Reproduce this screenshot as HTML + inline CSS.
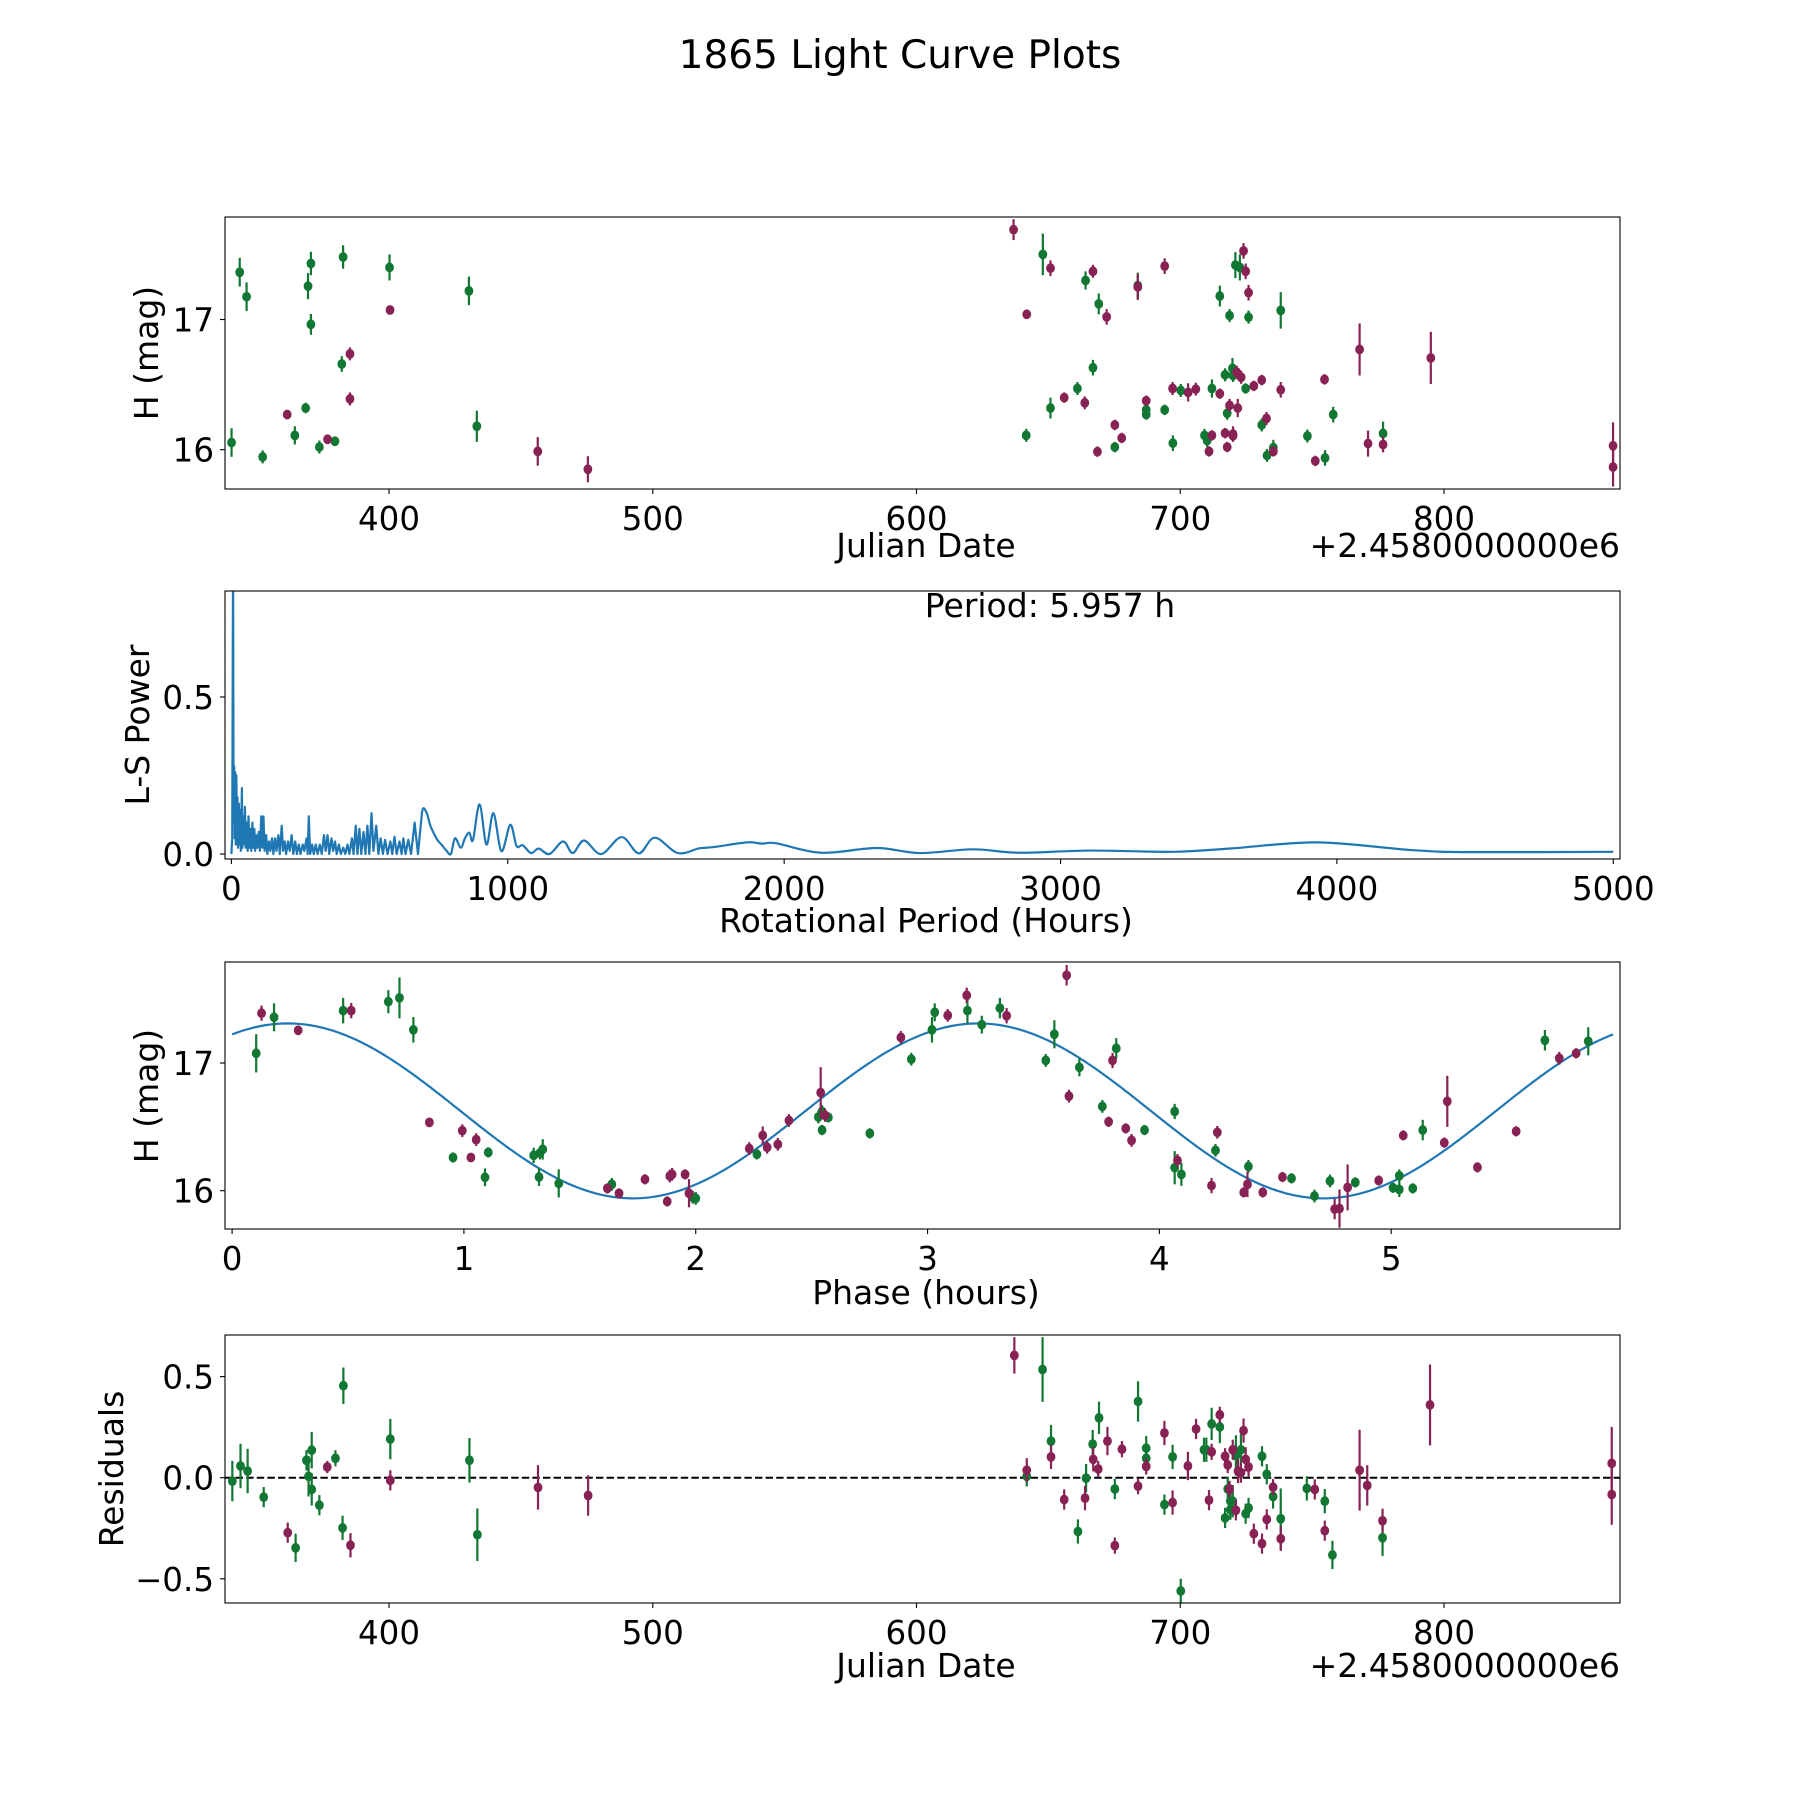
<!DOCTYPE html>
<html><head><meta charset="utf-8"><style>
html,body{margin:0;padding:0;background:#fff;}
svg text{font-family:"DejaVu Sans","Liberation Sans",sans-serif;fill:#000;}
</style></head><body>
<svg id="fig" xmlns="http://www.w3.org/2000/svg" width="1800" height="1800" viewBox="0 0 1800 1800">
<rect width="1800" height="1800" fill="#fff"/>
<text x="900" y="68" font-size="39" text-anchor="middle">1865 Light Curve Plots</text>
</svg>
<script>
// ---- Panel 1: light curve (Julian Date) ----
const lcGreenDay=[340.3,343.4,346.0,352.1,364.3,368.4,369.3,370.4,370.4,373.6,379.5,382.1,382.6,400.2,430.3,433.3,647.9,664.1,669.1,683.9,715.0,720.9,722.6,718.7,725.9,738.1,666.9,661.0,650.8,687.1,687.1,694.1,700.2,712.0,717.0,719.8,720.0,724.8,717.8,641.6,675.2,697.2,709.2,710.2,730.9,732.9,735.3,748.2,754.9,758.0,776.9];
const lcGreenMag=[16.055,17.363,17.175,15.945,16.11,16.32,17.256,17.43,16.963,16.02,16.065,16.658,17.48,17.40,17.22,16.18,17.50,17.30,17.12,17.26,17.18,17.418,17.40,17.03,17.018,17.07,16.63,16.47,16.32,16.306,16.27,16.306,16.455,16.47,16.575,16.625,16.57,16.47,16.28,16.11,16.02,16.05,16.11,16.07,16.19,15.956,16.016,16.105,15.937,16.27,16.125];
const lcGreenErr=[.11,.11,.11,.05,.07,.04,.1,.09,.08,.05,.03,.06,.09,.1,.11,.12,.16,.07,.08,.1,.08,.1,.1,.05,.05,.14,.06,.05,.08,.05,.04,.04,.05,.07,.05,.08,.05,.04,.05,.05,.04,.06,.05,.05,.05,.05,.06,.05,.06,.06,.09];
const lcRedDay=[361.4,376.7,385.2,385.2,400.4,456.4,475.4,636.8,650.8,641.8,666.9,672.1,683.9,694.1,724.0,724.8,725.9,768.0,795.0,656.0,663.8,687.1,697.1,703.0,705.9,715.0,721.4,723.1,727.9,730.9,738.1,754.7,718.7,721.8,668.6,675.2,677.8,710.9,712.0,717.0,717.8,720.0,720.0,732.7,735.3,751.2,771.2,776.9,864.1,864.1];
const lcRedMag=[16.27,16.08,16.736,16.39,17.073,15.987,15.85,17.69,17.394,17.04,17.37,17.02,17.25,17.41,17.527,17.37,17.206,16.77,16.705,16.40,16.36,16.376,16.47,16.44,16.465,16.43,16.595,16.556,16.49,16.535,16.46,16.54,16.34,16.32,15.985,16.19,16.09,15.987,16.11,16.127,16.02,16.12,16.107,16.24,15.987,15.914,16.047,16.04,16.03,15.867];
const lcRedErr=[.03,.02,.05,.05,.03,.11,.1,.08,.06,.03,.05,.06,.1,.06,.06,.06,.06,.2,.2,.04,.05,.04,.05,.07,.05,.04,.05,.05,.04,.04,.06,.04,.05,.07,.04,.04,.04,.04,.04,.04,.04,.06,.04,.05,.04,.04,.1,.06,.18,.15];
const dateTicks=[400,500,600,700,800];
const magTicks=[16,17];

// ---- Panel 2: Lomb-Scargle periodogram ----
const lsPeriod=[0,3,5.96,8,10,12,14,16,18,20,22,24,27,29,32,34,38,40,43,46,49,52,56,59,62,65,69,72,76,79,83,86,90,94,99,103,108,112,116,120,126,130,136,141,147,152,158,163,170,175,182,187,193,198,205,211,218,224,231,237,244,250,258,264,272,276,280,285,292,298,305,312,320,327,335,341,348,354,362,368,375,381,389,396,405,412,420,427,436,442,450,456,463,470,478,485,492,499,507,514,524,532,540,548,556,565,575,582,590,598,608,616,622,630,640,650,663,675,690,706,720,743,760,777,794,809,830,845,861,874,898,923,948,977,1009,1032,1054,1084,1112,1151,1200,1235,1276,1338,1412,1474,1532,1615,1693,1745,1865,1919,1972,2133,2336,2490,2683,2850,3107,3407,3621,3931,4263,4477,5000];
const lsPower=[0,0.05,0.95,0.1,0.28,0.05,0.26,0.03,0.25,0.04,0.18,0.02,0.16,0.03,0.14,0.01,0.21,0.02,0.12,0.03,0.15,0.02,0.10,0.01,0.12,0.02,0.08,0.01,0.10,0.02,0.08,0.01,0.06,0.02,0.07,0.01,0.12,0.02,0.12,0.01,0.06,0.0,0.04,0.01,0.05,0.0,0.05,0.01,0.06,0.0,0.09,0.01,0.04,0.0,0.04,0.01,0.06,0.0,0.04,0.0,0.03,0.0,0.03,0.01,0.05,0.0,0.12,0.0,0.03,0.0,0.03,0.0,0.03,0.0,0.06,0.01,0.06,0.0,0.05,0.01,0.04,0.0,0.03,0.0,0.02,0.0,0.03,0.0,0.05,0.0,0.09,0.0,0.08,0.0,0.07,0.0,0.09,0.0,0.13,0.01,0.09,0.0,0.05,0.0,0.045,0.0,0.04,0.0,0.055,0.0,0.04,0.0,0.05,0.0,0.045,0.0,0.1,0.0,0.135,0.132,0.09,0.048,0.03,0.012,0.0,0.05,0.02,0.05,0.068,0.044,0.158,0.03,0.13,0.009,0.093,0.025,0.028,0.003,0.017,0.0,0.04,0.003,0.043,0.0,0.054,0.002,0.052,0.003,0.018,0.022,0.037,0.033,0.034,0.004,0.019,0.003,0.015,0.004,0.011,0.007,0.018,0.037,0.013,0.006,0.007];
const periodTicks=[0,1000,2000,3000,4000,5000];
const powerTicks=[0,0.5];
const powerTickLabels=["0.0","0.5"];
const bestPeriodLabel="Period: 5.957 h";

// ---- Panel 3: phased light curve ----
const phGreenPhase=[0.104,0.181,0.479,0.674,0.722,0.782,0.953,1.105,1.091,1.301,1.328,1.34,1.324,1.409,1.638,1.987,2.0,2.264,2.529,2.545,2.545,2.572,2.751,2.93,3.019,3.031,3.172,3.234,3.312,3.51,3.547,3.655,3.754,3.814,3.936,4.066,4.066,4.095,4.242,4.384,4.57,4.669,4.736,4.845,5.008,5.035,5.035,5.093,5.136,5.663,5.85];
const phGreenMag=[17.076,17.358,17.41,17.48,17.51,17.26,16.26,16.30,16.105,16.277,16.295,16.324,16.107,16.057,16.05,15.948,15.94,16.285,16.577,16.62,16.475,16.574,16.449,17.03,17.26,17.397,17.41,17.30,17.43,17.02,17.225,16.966,16.66,17.115,16.475,16.62,16.18,16.128,16.316,16.19,16.097,15.958,16.076,16.065,16.023,16.117,16.01,16.018,16.475,17.178,17.17];
const phGreenErr=[.15,.11,.1,.09,.16,.1,.04,.04,.07,.06,.05,.08,.07,.11,.05,.05,.05,.04,.05,.05,.04,.04,.04,.05,.1,.07,.1,.07,.08,.05,.11,.07,.05,.08,.04,.06,.13,.09,.05,.05,.04,.05,.05,.04,.04,.05,.06,.04,.08,.08,.11];
const phRedPhase=[0.127,0.285,0.514,0.851,0.993,1.053,1.03,1.619,1.669,1.781,1.877,1.888,1.898,1.954,1.971,2.231,2.289,2.308,2.354,2.402,2.539,2.558,2.885,3.087,3.169,3.341,3.60,3.61,3.798,3.781,3.855,3.88,4.078,4.225,4.25,4.38,4.364,4.446,4.531,4.756,4.777,4.812,4.946,5.052,5.229,5.242,5.372,5.539,5.725,5.798];
const phRedMag=[17.39,17.256,17.41,16.535,16.47,16.40,16.26,16.018,15.979,16.089,15.916,16.115,16.128,16.128,15.98,16.33,16.433,16.34,16.363,16.55,16.768,16.59,17.2,17.373,17.53,17.37,17.687,16.74,17.02,16.54,16.488,16.394,16.237,16.04,16.457,16.05,15.987,15.987,16.107,15.856,15.86,16.026,16.08,16.433,16.376,16.70,16.183,16.465,17.037,17.076];
const phRedErr=[.06,.03,.06,.03,.05,.05,.03,.04,.04,.04,.04,.05,.05,.04,.11,.05,.07,.05,.05,.05,.2,.05,.05,.05,.06,.06,.08,.05,.06,.04,.04,.05,.05,.06,.05,.1,.04,.04,.04,.08,.15,.18,.04,.04,.04,.2,.04,.04,.05,.04];
const phaseTicks=[0,1,2,3,4,5];
// fitted model: mean, amplitude, phase of peak (h), period (h), harmonic
const modelCoef=[16.625,0.685,0.24,5.957,2];

// ---- Panel 4: residuals ----
const resGreenDay=[340.6,343.7,346.4,352.5,364.6,368.7,369.5,370.7,370.7,373.6,379.7,382.4,382.7,400.5,430.5,433.5,647.8,641.8,651.0,661.2,664.3,666.8,669.2,675.2,684.0,687.1,687.1,694.0,697.1,700.2,709.0,709.9,711.9,715.0,717.0,718.0,719.0,719.9,719.0,721.1,723.0,724.8,725.9,731.0,732.8,735.2,738.1,748.0,754.8,757.7,776.7];
const resGreenVal=[-0.017,0.058,0.033,-0.096,-0.347,0.086,0.007,0.136,-0.058,-0.136,0.096,-0.248,0.455,0.191,0.086,-0.282,0.535,0.007,0.181,-0.266,-0.002,0.166,0.296,-0.056,0.377,0.146,0.096,-0.133,0.103,-0.56,0.138,0.138,0.266,0.251,-0.199,-0.056,-0.116,-0.116,-0.158,0.11,0.138,-0.178,-0.15,0.106,0.017,-0.093,-0.203,-0.053,-0.116,-0.382,-0.297];
const resGreenErr=[.1,.11,.11,.05,.07,.05,.1,.09,.08,.05,.04,.06,.09,.1,.11,.13,.16,.05,.08,.06,.07,.07,.08,.05,.1,.06,.05,.05,.06,.06,.06,.06,.08,.08,.05,.06,.08,.08,.05,.1,.08,.05,.05,.05,.05,.06,.15,.06,.06,.07,.09];
const resRedDay=[361.6,376.6,385.4,400.5,456.5,475.5,637.1,641.8,651.0,656.0,663.9,667.0,668.9,672.4,675.2,677.9,684.0,687.1,694.0,697.1,702.9,706.0,711.9,710.9,715.0,717.0,718.0,718.7,719.9,721.1,721.9,723.0,724.0,724.8,725.9,727.9,731.0,732.8,735.2,738.1,751.0,754.8,768.0,770.9,776.7,794.7,863.6,863.6];
const resRedVal=[-0.272,0.053,-0.334,-0.013,-0.048,-0.088,0.605,0.037,0.103,-0.108,-0.101,0.091,0.043,0.181,-0.336,0.141,-0.042,0.056,0.221,-0.123,0.058,0.241,0.128,-0.111,0.311,0.106,0.063,-0.056,0.138,-0.161,0.033,0.025,0.233,0.091,0.053,-0.277,-0.326,-0.206,-0.047,-0.302,-0.058,-0.262,0.037,-0.038,-0.213,0.36,0.071,-0.083];
const resRedErr=[.05,.03,.06,.05,.11,.1,.09,.06,.06,.05,.06,.06,.04,.07,.04,.04,.04,.04,.06,.06,.07,.05,.04,.05,.04,.04,.04,.04,.05,.05,.06,.05,.06,.06,.05,.05,.05,.05,.04,.06,.05,.05,.2,.1,.06,.2,.18,.15];
const resTicks=[-0.5,0,0.5];
const resTickLabels=["\u22120.5","0.0","0.5"];

const NS="http://www.w3.org/2000/svg";
const svg=document.getElementById('fig');
const GREEN="#117733", RED="#882255", BLUE="#1f77b4";
function mk(tag,attrs,parent){const e=document.createElementNS(NS,tag);for(const k in attrs)e.setAttribute(k,attrs[k]);(parent||svg).appendChild(e);return e;}
function lin(d0,d1,r0,r1){return v=>r0+(v-d0)*(r1-r0)/(d1-d0);}

function makePanel(id,box){
  const g=mk('g',{});
  
  
  const cp=mk('clipPath',{id:'clip-'+id},g);
  mk('rect',{x:box.x0,y:box.y0,width:box.x1-box.x0,height:box.y1-box.y0},cp);
  const plot=mk('g',{'clip-path':'url(#clip-'+id+')'},g);
  
  
  return {g,plot};
}
function frame(g,box,name){
  const r=mk('rect',{x:box.x0,y:box.y0,width:box.x1-box.x0,height:box.y1-box.y0,fill:'none',stroke:'#000','stroke-width':1.1},g);
  
  
}
function xAxis(g,box,sx,ticks,labels,name){
  ticks.forEach((t,i)=>{const x=sx(t);
    mk('line',{x1:x,x2:x,y1:box.y1,y2:box.y1+5,stroke:'#000','stroke-width':1.1},g);
    const tx=mk('text',{x:x,y:box.y1+41,'font-size':32.5,'text-anchor':'middle'},g);
    
    
    tx.textContent=labels?labels[i]:String(t);});
}
function yAxis(g,box,sy,ticks,labels,name){
  ticks.forEach((t,i)=>{const y=sy(t);
    mk('line',{x1:box.x0-5,x2:box.x0,y1:y,y2:y,stroke:'#000','stroke-width':1.1},g);
    const tx=mk('text',{x:box.x0-11,y:y+12,'font-size':32.5,'text-anchor':'end'},g);
    
    
    tx.textContent=labels?labels[i]:String(t);});
}
function label(g,txt,x,y,rot,name,anchor){
  const t=mk('text',{x:x,y:y,'font-size':33,'text-anchor':anchor||'middle'},g);
  if(rot)t.setAttribute('transform','rotate(-90 '+x+' '+y+')');
  
  
  t.textContent=txt;return t;
}
function errorbars(parent,xs,ys,es,color,sx,sy,name){
  for(let i=0;i<xs.length;i++){
    const x=sx(xs[i]),y=sy(ys[i]);
    const l=mk('line',{x1:x,x2:x,y1:sy(ys[i]+es[i]),y2:sy(ys[i]-es[i]),stroke:color,'stroke-width':2.2},parent);
    
    
    const c=mk('ellipse',{cx:x,cy:y,rx:4.4,ry:4.9,fill:color},parent);
    
    
  }
}

// Panel 1
(function(){
  const box={x0:225,x1:1620,y0:217,y1:489};
  const sx=lin(400,800,389,1444), sy=lin(16,17,449.7,319.5);
  const {g,plot}=makePanel('light-curve-panel',box);
  errorbars(plot,lcGreenDay,lcGreenMag,lcGreenErr,GREEN,sx,sy,'lc-green');
  errorbars(plot,lcRedDay,lcRedMag,lcRedErr,RED,sx,sy,'lc-red');
  frame(g,box,'light-curve-frame');
  xAxis(g,box,sx,dateTicks,null,'date-x-axis');
  yAxis(g,box,sy,magTicks,null,'mag-y-axis');
  label(g,'Julian Date',926,557,false,'x-axis-title');
  label(g,'+2.4580000000e6',1620,557,false,'x-offset-text','end');
  label(g,'H (mag)',158,353,true,'y-axis-title');
})();

// Panel 2
(function(){
  const box={x0:225,x1:1620,y0:591,y1:859};
  const sx=lin(0,5000,231.4,1613.3), sy=lin(0,0.5,854,697);
  const {g,plot}=makePanel('periodogram-panel',box);
  const pts=lsPeriod.map((p,i)=>[sx(p),sy(lsPower[i])]);
  let d='M'+pts[0][0].toFixed(2)+','+pts[0][1].toFixed(2);
  for(let i=1;i<pts.length;i++){
    const p0=pts[Math.max(0,i-2)],p1=pts[i-1],p2=pts[i],p3=pts[Math.min(pts.length-1,i+1)];
    if(lsPeriod[i]<700){d+='L'+p2[0].toFixed(2)+','+p2[1].toFixed(2);continue;}
    const c1=[p1[0]+(p2[0]-p0[0])/6,p1[1]+(p2[1]-p0[1])/6],c2=[p2[0]-(p3[0]-p1[0])/6,p2[1]-(p3[1]-p1[1])/6];
    d+='C'+c1[0].toFixed(2)+','+c1[1].toFixed(2)+' '+c2[0].toFixed(2)+','+c2[1].toFixed(2)+' '+p2[0].toFixed(2)+','+p2[1].toFixed(2);
  }
  const path=mk('path',{d:d,fill:'none',stroke:BLUE,'stroke-width':2.2,'stroke-linejoin':'round'},plot);
  
  
  frame(g,box,'periodogram-frame');
  xAxis(g,box,sx,periodTicks,null,'period-x-axis');
  yAxis(g,box,sy,powerTicks,powerTickLabels,'power-y-axis');
  label(g,'Rotational Period (Hours)',926,932,false,'x-axis-title');
  label(g,'L-S Power',149,725,true,'y-axis-title');
  label(g,bestPeriodLabel,1050,617,false,'period-annotation');
})();

// Panel 3
(function(){
  const box={x0:225,x1:1620,y0:962,y1:1229};
  const sx=lin(0,5,232.1,1391.2), sy=lin(16,17,1190.7,1063);
  const {g,plot}=makePanel('phase-panel',box);
  const [mean,amp,pk,per,harm]=modelCoef;
  let d='';
  for(let i=0;i<=300;i++){const p=per*i/300;const v=mean+amp*Math.cos(2*Math.PI*harm*(p-pk)/per);d+=(i?'L':'M')+sx(p).toFixed(2)+','+sy(v).toFixed(2);}
  const path=mk('path',{d:d,fill:'none',stroke:BLUE,'stroke-width':2.2},plot);
  
  
  errorbars(plot,phGreenPhase,phGreenMag,phGreenErr,GREEN,sx,sy,'phase-green');
  errorbars(plot,phRedPhase,phRedMag,phRedErr,RED,sx,sy,'phase-red');
  frame(g,box,'phase-frame');
  xAxis(g,box,sx,phaseTicks,null,'phase-x-axis');
  yAxis(g,box,sy,magTicks,null,'phase-mag-y-axis');
  label(g,'Phase (hours)',926,1304,false,'x-axis-title');
  label(g,'H (mag)',158,1096,true,'y-axis-title');
})();

// Panel 4
(function(){
  const box={x0:225,x1:1620,y0:1335,y1:1603};
  const sx=lin(400,800,389,1444), sy=lin(0,0.5,1477.7,1376.6);
  const {g,plot}=makePanel('residuals-panel',box);
  const z=mk('line',{x1:box.x0,x2:box.x1,y1:sy(0),y2:sy(0),stroke:'#000','stroke-width':2,'stroke-dasharray':'7.4,3.2'},plot);
  
  
  errorbars(plot,resGreenDay,resGreenVal,resGreenErr,GREEN,sx,sy,'res-green');
  errorbars(plot,resRedDay,resRedVal,resRedErr,RED,sx,sy,'res-red');
  frame(g,box,'residuals-frame');
  xAxis(g,box,sx,dateTicks,null,'res-date-x-axis');
  yAxis(g,box,sy,resTicks,resTickLabels,'res-y-axis');
  label(g,'Julian Date',926,1677,false,'x-axis-title');
  label(g,'+2.4580000000e6',1620,1677,false,'x-offset-text','end');
  label(g,'Residuals',123,1469,true,'y-axis-title');
})();
</script>
</body></html>
